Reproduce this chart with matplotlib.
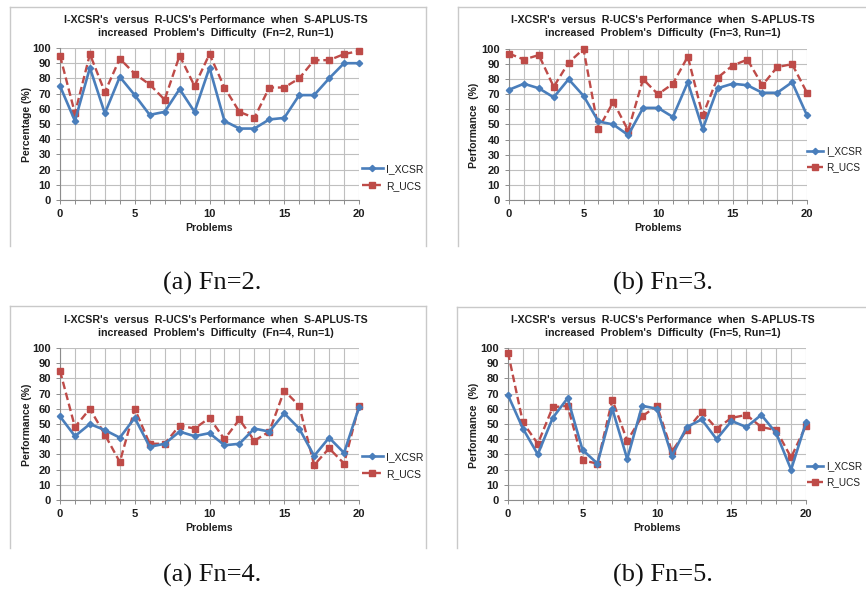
import matplotlib
matplotlib.use("Agg")
import matplotlib.pyplot as plt
from matplotlib.lines import Line2D
from matplotlib.ticker import MultipleLocator

# ---- data -------------------------------------------------------------
problems = list(range(21))

xcsr_fn2 = [75, 52, 87, 57, 81, 69, 56, 58, 73, 58, 87, 52, 47, 47, 53, 54, 69, 69, 80, 90, 90]
ucs_fn2 = [95, 57, 96, 71, 93, 83, 76, 66, 95, 75, 96, 74, 58, 54, 74, 74, 80, 92, 92, 96, 98]

xcsr_fn3 = [73, 77, 74, 68, 80, 69, 52, 50, 43, 61, 61, 55, 78, 47, 74, 77, 76, 71, 71, 78, 56]
ucs_fn3 = [97, 93, 96, 75, 91, 100, 47, 65, 46, 80, 70, 77, 95, 56, 81, 89, 93, 76, 88, 90, 71]

xcsr_fn4 = [55, 42, 50, 46, 41, 54, 35, 37, 45, 42, 44, 36, 37, 47, 45, 57, 47, 29, 41, 31, 61]
ucs_fn4 = [85, 48, 60, 43, 25, 60, 37, 37, 49, 47, 54, 40, 53, 39, 45, 72, 62, 23, 34, 24, 62]

xcsr_fn5 = [69, 47, 30, 54, 67, 33, 24, 60, 27, 62, 60, 29, 48, 53, 40, 52, 48, 56, 44, 20, 51]
ucs_fn5 = [97, 51, 37, 61, 62, 26, 24, 66, 39, 55, 62, 32, 46, 58, 47, 54, 56, 48, 46, 28, 49]

series_names = ["I_XCSR", "R_UCS"]
fn_values = [2, 3, 4, 5]
captions = ["(a) Fn=2.", "(b) Fn=3.", "(a) Fn=4.", "(b) Fn=5."]
ylabels = ["Percentage (%)", "Performance  (%)", "Performance (%)", "Performance  (%)"]
yticks = list(range(0, 101, 10))
xticks = [0, 5, 10, 15, 20]

# ---- styling ----------------------------------------------------------
W, H = 866, 600
BLUE = "#4A7EBB"
RED = "#BE4B48"
GRID = "#BFBFBF"
FRAME = "#C9C9C9"
TXT = "#1E1E1E"
SANS = ["Liberation Sans", "DejaVu Sans"]
SERIF = ["Liberation Serif", "DejaVu Serif"]

fig = plt.figure(figsize=(W / 100, H / 100), dpi=100)
fig.patch.set_facecolor("white")


def fx(px):
    return px / W


def fy(py):
    return 1 - py / H


# panel layout in pixels: plot box, title centre/rows, legend anchor, frame
panels = [
    dict(box=(60, 359, 48, 200), tx=216, ty=(20, 33), ylx=27, leg=(362, 164), hl=2.0,
         lfs=7.5, xl=228, frame=(10, 426, 7, 246), cap=(212, 283)),
    dict(box=(509, 807, 49, 200), tx=663, ty=(20, 33), ylx=474, leg=(807, 146), hl=1.6,
         lfs=7.2, xl=228, frame=(458, 900, 7, 246), cap=(663, 283)),
    dict(box=(60, 359, 348, 500), tx=216, ty=(320, 333), ylx=27, leg=(362, 452), hl=2.0,
         lfs=7.5, xl=528, frame=(10, 426, 306, 548), cap=(212, 575)),
    dict(box=(508, 806, 348, 500), tx=663, ty=(320, 333), ylx=474, leg=(807, 461), hl=1.6,
         lfs=7.2, xl=528, frame=(457, 900, 307, 548), cap=(663, 575)),
]

data = [(xcsr_fn2, ucs_fn2), (xcsr_fn3, ucs_fn3), (xcsr_fn4, ucs_fn4), (xcsr_fn5, ucs_fn5)]

for i, p in enumerate(panels):
    x0, x1, yt, yb = p["box"]
    ax = fig.add_axes([fx(x0), fy(yb), fx(x1 - x0), (yb - yt) / H])
    xcsr, ucs = data[i]

    ax.plot(problems, xcsr, color=BLUE, lw=1.9, marker="D", ms=3.2,
            mfc=BLUE, mec=BLUE, label=series_names[0], zorder=4, clip_on=False)
    ax.plot(problems, ucs, color=RED, lw=1.7, ls=(0, (3.2, 1.6)), marker="s", ms=5,
            mfc=RED, mec=RED, label=series_names[1], zorder=3, clip_on=False)

    ax.set_xlim(0, 20)
    ax.set_ylim(0, 100)
    ax.set_xticks(xticks)
    ax.xaxis.set_minor_locator(MultipleLocator(1))
    ax.set_yticks(yticks)
    ax.grid(True, which="both", color=GRID, lw=0.8, zorder=0)
    ax.set_axisbelow(True)
    for side in ("top", "right"):
        ax.spines[side].set_visible(False)
    for side in ("left", "bottom"):
        ax.spines[side].set_color("#8C8C8C")
        ax.spines[side].set_linewidth(0.8)
    ax.tick_params(which="both", direction="out", color="#8C8C8C", width=0.7)
    ax.tick_params(which="major", length=3)
    ax.tick_params(which="minor", length=3)
    ax.tick_params(axis="x", pad=3.5)
    ax.tick_params(axis="y", pad=3.5)
    for lab in ax.get_xticklabels() + ax.get_yticklabels():
        lab.set_fontfamily(SANS)
        lab.set_fontweight("bold")
        lab.set_fontsize(8)
        lab.set_color(TXT)

    # titles, axis labels
    fig.text(fx(p["tx"]), fy(p["ty"][0]),
             "I-XCSR's  versus  R-UCS's Performance  when  S-APLUS-TS",
             ha="center", va="center", fontsize=7.7, fontweight="bold",
             family=SANS, color=TXT)
    fig.text(fx(p["tx"]), fy(p["ty"][1]),
             f"increased  Problem's  Difficulty  (Fn={fn_values[i]}, Run=1)",
             ha="center", va="center", fontsize=7.7, fontweight="bold",
             family=SANS, color=TXT)
    fig.text(fx(p["ylx"]), fy((yt + yb) / 2 + 1), ylabels[i], rotation=90,
             ha="center", va="center", fontsize=7.5, fontweight="bold",
             family=SANS, color=TXT)
    fig.text(fx((x0 + x1) / 2), fy(p["xl"]), "Problems", ha="center", va="center",
             fontsize=7.5, fontweight="bold", family=SANS, color=TXT)

    # legend to the right of the plot area
    leg = ax.legend(loc="upper left", bbox_to_anchor=(fx(p["leg"][0]), fy(p["leg"][1])),
                    bbox_transform=fig.transFigure, frameon=False, borderpad=0,
                    borderaxespad=0, handlelength=p["hl"], handletextpad=0.3,
                    labelspacing=0.65, prop=dict(family=SANS, size=p["lfs"]))
    for t in leg.get_texts():
        t.set_color(TXT)

    # chart frame (open at the bottom)
    l, r, t_, b = p["frame"]
    for xs, ys in (([l, l], [t_, b]), ([r, r], [t_, b]), ([l, r], [t_, t_])):
        fig.add_artist(Line2D([fx(v) for v in xs], [fy(v) for v in ys],
                              color=FRAME, lw=1.0, transform=fig.transFigure))

    # sub-figure caption
    fig.text(fx(p["cap"][0]), fy(p["cap"][1]), captions[i], ha="center", va="center",
             fontsize=19, family=SERIF, color="#111111")

fig.savefig("out.png", dpi=100, facecolor="white")
